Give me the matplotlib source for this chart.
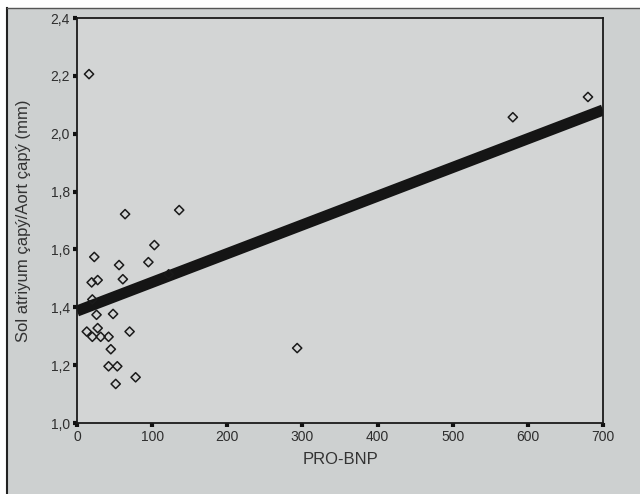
import matplotlib
matplotlib.use('Agg')
import matplotlib.pyplot as plt
from matplotlib.patches import Rectangle
from matplotlib.ticker import FuncFormatter

plt.rcParams['font.family'] = ['Liberation Sans Narrow', 'Liberation Sans', 'DejaVu Sans']

# PRO-BNP vs left atrium / aortic diameter ratio
probnp = [16, 580, 680, 293, 136, 64, 23, 103, 95, 56, 19.5, 27.5, 61, 20.4,
          26, 48, 27.5, 13, 20.4, 31.5, 42, 70, 45, 42, 53.6, 78, 51.5, 122]
ratio = [2.206, 2.057, 2.127, 1.259, 1.736, 1.722, 1.574, 1.615, 1.556, 1.546,
         1.486, 1.494, 1.497, 1.427, 1.374, 1.377, 1.328, 1.316, 1.298, 1.298,
         1.298, 1.316, 1.255, 1.196, 1.196, 1.158, 1.135, 1.514]

fit_x = [0, 700]
fit_y = [1.387, 2.082]

xticks = [0, 100, 200, 300, 400, 500, 600, 700]
yticks = [1.0, 1.2, 1.4, 1.6, 1.8, 2.0, 2.2, 2.4]

fig = plt.figure(figsize=(6.4, 4.94), dpi=100)
fig.patch.set_facecolor('#cdd0d0')
# photo border: white strip at top and left
fig.patches.append(Rectangle((0, 1 - 8/494), 1, 8/494, transform=fig.transFigure,
                             facecolor='white', edgecolor='none'))
fig.patches.append(Rectangle((0, 0), 7/640, 1, transform=fig.transFigure,
                             facecolor='white', edgecolor='none'))
fig.lines.append(plt.Line2D([7/640, 7/640], [0, 1 - 8/494], transform=fig.transFigure,
                            color='#222222', lw=1.5))
fig.lines.append(plt.Line2D([7/640, 1], [1 - 8/494, 1 - 8/494], transform=fig.transFigure,
                            color='#555555', lw=1))

ax = fig.add_axes([77/640, 1 - 423/494, 526/640, 405/494])
ax.set_facecolor('#d3d5d5')

ax.plot(fit_x, fit_y, color='#151515', lw=8, solid_capstyle='butt', zorder=2)
ax.scatter(probnp, ratio, marker='D', s=22, facecolors='none', edgecolors='#1a1a1a',
           linewidths=1.1, zorder=3)

ax.set_xlim(0, 700)
ax.set_ylim(1.0, 2.4)
ax.set_xticks(xticks)
ax.set_yticks(yticks)
ax.yaxis.set_major_formatter(FuncFormatter(lambda v, p: f'{v:.1f}'.replace('.', ',')))
ax.tick_params(direction='out', length=3, width=3, color='#111111', labelsize=10,
               labelcolor='#2e2e2e', pad=2)
for s in ax.spines.values():
    s.set_color('#1a1a1a')
    s.set_linewidth(1.3)

ax.set_xlabel('PRO-BNP', fontsize=12, color='#333333', labelpad=6)
ax.set_ylabel('Sol atriyum çapý/Aort çapý (mm)', fontsize=12, color='#333333', labelpad=14)

fig.savefig('out.png', dpi=100, facecolor=fig.get_facecolor())
